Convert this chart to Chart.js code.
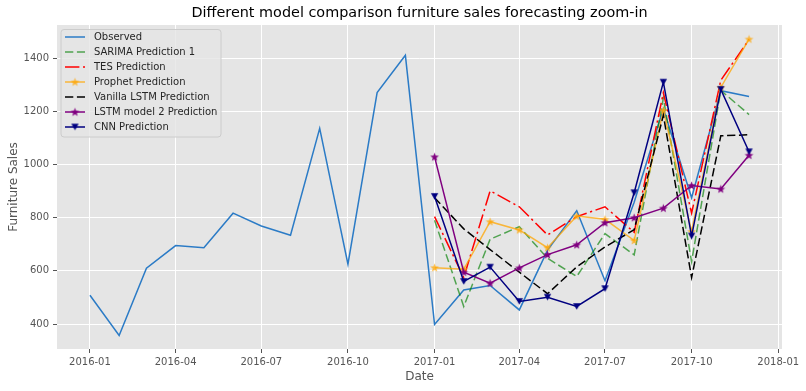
<!DOCTYPE html>
<html>
<head>
<meta charset="utf-8">
<script src="https://cdn.jsdelivr.net/npm/chart.js@4.4.0/dist/chart.umd.min.js"></script>
<style>
  html, body { margin: 0; padding: 0; background: #fff; }
  canvas { display: block; }
</style>
</head>
<body>
<canvas id="chart" width="806" height="391"></canvas>
<script>
// monthly observed furniture sales
const months = ['2016-01', '2016-02', '2016-03', '2016-04', '2016-05', '2016-06',
  '2016-07', '2016-08', '2016-09', '2016-10', '2016-11', '2016-12',
  '2017-01', '2017-02', '2017-03', '2017-04', '2017-05', '2017-06',
  '2017-07', '2017-08', '2017-09', '2017-10', '2017-11', '2017-12'];
const observed = [508, 357, 610, 695, 687, 817, 769, 734, 1136, 625, 1271, 1411,
  398, 528, 545, 453, 678, 826, 563, 858, 1210, 875, 1278, 1256];

// forecasts for 2017
const forecastMonths = ['2017-01', '2017-02', '2017-03', '2017-04', '2017-05', '2017-06',
  '2017-07', '2017-08', '2017-09', '2017-10', '2017-11', '2017-12'];
const sarima = [790, 466, 719, 766, 647, 579, 740, 660, 1250, 635, 1279, 1188];
const tes = [804, 575, 901, 841, 735, 804, 841, 745, 1270, 817, 1317, 1470];
const prophet = [612, 606, 785, 754, 687, 806, 794, 714, 1204, 748, 1290, 1472];
const vanillaLstm = [875, 758, 680, 595, 514, 615, 690, 755, 1185, 575, 1108, 1112];
const lstm2 = [1029, 595, 554, 611, 661, 698, 781, 800, 836, 921, 908, 1035];
const cnn = [880, 560, 614, 485, 501, 466, 533, 894, 1310, 731, 1283, 1048];

const xTickLabels = ['2016-01', '2016-04', '2016-07', '2016-10', '2017-01',
  '2017-04', '2017-07', '2017-10', '2018-01'];
const yTicks = [400, 600, 800, 1000, 1200, 1400];

// month string -> day number
const toDay = (s) => {
  const [y, m] = s.split('-').map(Number);
  return Date.UTC(y, m - 1, 1) / 864e5;
};
const toPoints = (labels, vals) => labels.map((l, i) => ({ x: toDay(l), y: vals[i] }));

// marker images (filled star / triangle down)
const makeMarker = (kind, color) => {
  const c = document.createElement('canvas');
  c.width = 13; c.height = 13;
  const g = c.getContext('2d');
  g.fillStyle = color;
  g.beginPath();
  if (kind === 'star') {
    const R = 4.6, r = 1.9;
    for (let i = 0; i < 10; i++) {
      const a = -Math.PI / 2 + i * Math.PI / 5;
      const rad = i % 2 === 0 ? R : r;
      const px = 6.5 + rad * Math.cos(a), py = 6.8 + rad * Math.sin(a);
      i === 0 ? g.moveTo(px, py) : g.lineTo(px, py);
    }
  } else {
    g.moveTo(2.8, 3.2);
    g.lineTo(10.2, 3.2);
    g.lineTo(6.5, 9.8);
  }
  g.closePath();
  g.fill();
  return c;
};

const series = [
  { label: 'Observed', labels: months, data: observed, color: '#2b7bc6', dash: [], marker: null },
  { label: 'SARIMA Prediction 1', labels: forecastMonths, data: sarima, color: 'rgba(0,128,0,0.65)', dash: [8.3, 3.6], marker: null },
  { label: 'TES Prediction', labels: forecastMonths, data: tes, color: '#ff0000', dash: [14.4, 3.6, 2.2, 3.6], marker: null },
  { label: 'Prophet Prediction', labels: forecastMonths, data: prophet, color: 'rgba(255,165,0,0.75)', dash: [], marker: 'star' },
  { label: 'Vanilla LSTM Prediction', labels: forecastMonths, data: vanillaLstm, color: '#000000', dash: [8.3, 3.6], marker: null },
  { label: 'LSTM model 2 Prediction', labels: forecastMonths, data: lstm2, color: '#800080', dash: [], marker: 'star' },
  { label: 'CNN Prediction', labels: forecastMonths, data: cnn, color: '#000080', dash: [], marker: 'tri' },
];

const datasets = series.map((s, i) => {
  const img = s.marker ? makeMarker(s.marker, s.color) : null;
  return {
    label: s.label,
    data: toPoints(s.labels, s.data),
    borderColor: s.color,
    backgroundColor: s.color,
    borderWidth: 1.5,
    borderDash: s.dash,
    pointStyle: img || 'circle',
    pointRadius: img ? 6 : 0,
    tension: 0,
    order: series.length - i,
    markerImg: img,
  };
});

const FONT = '"DejaVu Sans", sans-serif';

const decorPlugin = {
  id: 'decor',
  beforeDraw(chart) {
    const { ctx, chartArea: a } = chart;
    ctx.save();
    ctx.fillStyle = '#e5e5e5';
    ctx.fillRect(a.left, a.top, a.right - a.left, a.bottom - a.top);
    ctx.restore();
  },
  afterDraw(chart) {
    const { ctx, chartArea: a } = chart;
    ctx.save();
    // title
    ctx.fillStyle = '#000';
    ctx.font = '14.4px ' + FONT;
    ctx.textAlign = 'center';
    ctx.textBaseline = 'middle';
    ctx.fillText('Different model comparison furniture sales forecasting zoom-in', (a.left + a.right) / 2, 13);
    // axis titles
    ctx.fillStyle = '#555555';
    ctx.font = '12px ' + FONT;
    ctx.fillText('Date', (a.left + a.right) / 2, 377);
    ctx.translate(14, (a.top + a.bottom) / 2);
    ctx.rotate(-Math.PI / 2);
    ctx.fillText('Furniture Sales', 0, 0);
    ctx.restore();

    // legend
    ctx.save();
    const lx = 61, ly = 29.5, lw = 160, lh = 107.5;
    ctx.beginPath();
    ctx.roundRect(lx, ly, lw, lh, 3);
    ctx.fillStyle = 'rgba(229,229,229,0.8)';
    ctx.fill();
    ctx.strokeStyle = '#cccccc';
    ctx.lineWidth = 1;
    ctx.stroke();
    ctx.font = '10px ' + FONT;
    ctx.textAlign = 'left';
    ctx.textBaseline = 'middle';
    chart.data.datasets.forEach((d, i) => {
      const y = 37 + i * 15;
      ctx.beginPath();
      ctx.setLineDash(d.borderDash);
      ctx.strokeStyle = d.borderColor;
      ctx.lineWidth = 1.5;
      ctx.moveTo(65, y);
      ctx.lineTo(85, y);
      ctx.stroke();
      ctx.setLineDash([]);
      if (d.markerImg) ctx.drawImage(d.markerImg, 75 - 6.5, y - 6.5);
      ctx.fillStyle = '#262626';
      ctx.fillText(d.label, 94, y);
    });
    ctx.restore();
  },
};

new Chart(document.getElementById('chart'), {
  type: 'line',
  data: { datasets },
  options: {
    responsive: false,
    devicePixelRatio: 1,
    animation: false,
    layout: { padding: { top: 25, right: 24, left: 0, bottom: 0 } },
    plugins: { legend: { display: false }, tooltip: { enabled: false }, title: { display: false } },
    scales: {
      x: {
        type: 'linear',
        min: toDay('2016-01') - 35,
        max: toDay('2017-12') + 35,
        afterBuildTicks: (scale) => { scale.ticks = xTickLabels.map(l => ({ value: toDay(l) })); },
        afterFit: (scale) => { scale.height = 42; },
        ticks: {
          color: '#555555',
          font: { family: FONT, size: 10 },
          padding: 3,
          maxRotation: 0,
          autoSkip: false,
          callback: (v) => xTickLabels.find(l => toDay(l) === v) || '',
        },
        grid: { color: '#ffffff', lineWidth: 1, tickLength: 4, tickColor: '#555555' },
        border: { display: false },
      },
      y: {
        type: 'linear',
        min: 306,
        max: 1525,
        afterBuildTicks: (scale) => { scale.ticks = yTicks.map(v => ({ value: v })); },
        afterFit: (scale) => { scale.width = 57; },
        ticks: {
          color: '#555555',
          font: { family: FONT, size: 10 },
          padding: 4,
          autoSkip: false,
          callback: (v) => String(v),
        },
        grid: { color: '#ffffff', lineWidth: 1, tickLength: 4, tickColor: '#555555' },
        border: { display: false },
      },
    },
  },
  plugins: [decorPlugin],
});
</script>
</body>
</html>
